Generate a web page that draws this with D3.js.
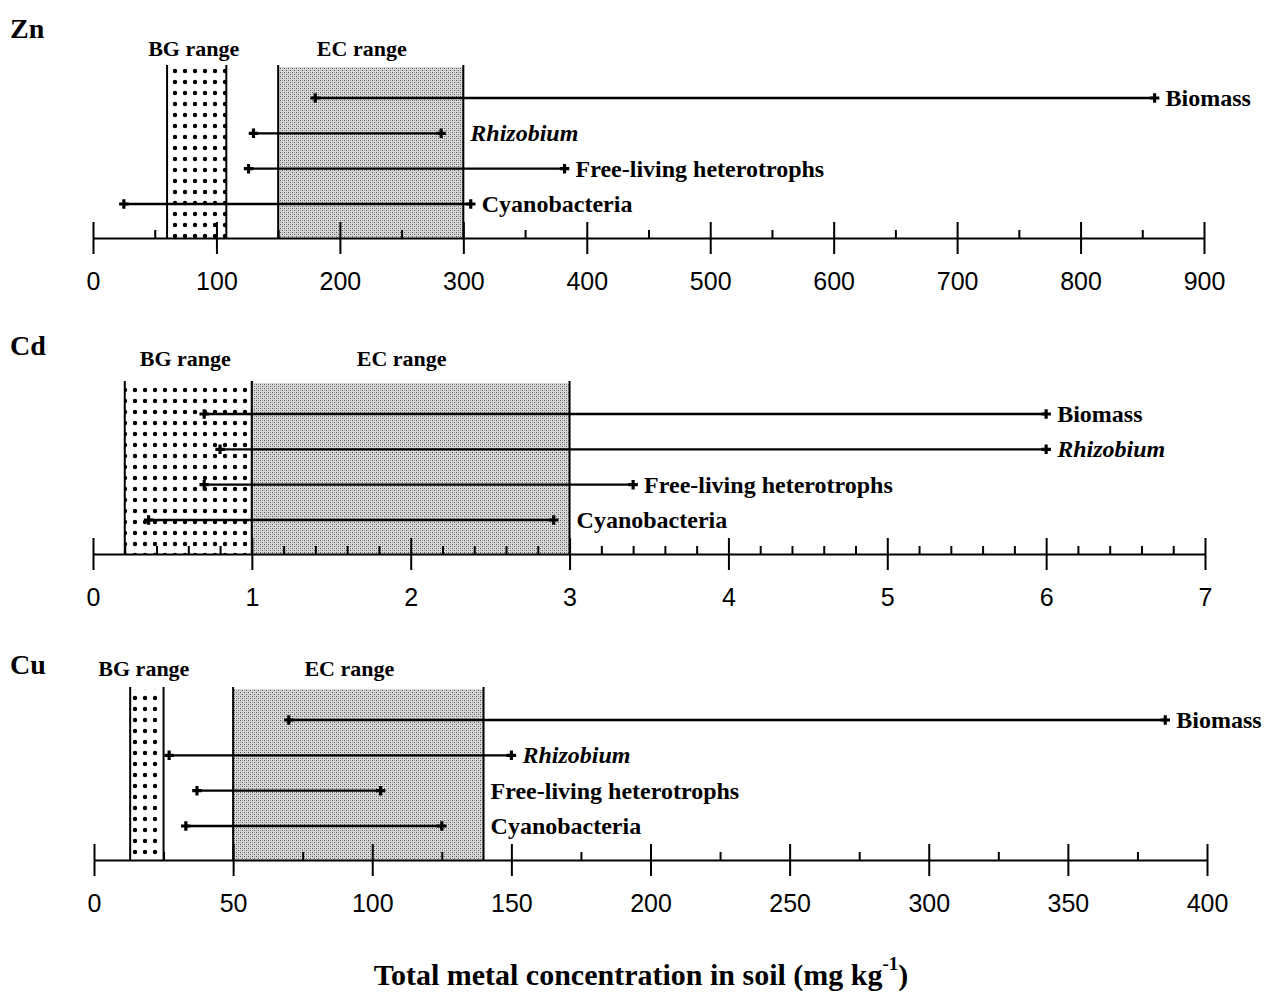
<!DOCTYPE html>
<html>
<head>
<meta charset="utf-8">
<script src="https://cdn.jsdelivr.net/npm/d3@7"></script>
<style>
  body { margin: 0; background: #fff; }
  svg { display: block; }
</style>
</head>
<body>
<svg id="chart" width="1276" height="992"></svg>
<script>
const metals = ['Zn', 'Cd', 'Cu'];
const groups = ['Biomass', 'Rhizobium', 'Free-living heterotrophs', 'Cyanobacteria'];

// low / high effect concentrations per group (mg/kg)
const lowZn = [180, 130, 126, 25];
const highZn = [860, 282, 382, 306];
const lowCd = [0.7, 0.8, 0.7, 0.35];
const highCd = [6.0, 6.0, 3.4, 2.9];
const lowCu = [70, 27, 37, 33];
const highCu = [385, 150, 103, 125];

const bgRange = [[60, 108], [0.2, 1], [13, 25]];
const ecRange = [[150, 300], [1, 3], [50, 140]];
const axisMax = [900, 7, 400];
const majorStep = [100, 1, 50];
const minorStep = [50, 0.2, 25];

const lows = [lowZn, lowCd, lowCu];
const highs = [highZn, highCd, highCu];

// layout per panel
const layout = [
  { base: 238, x0: 93, x1: 1204, nameY: 28, rangeY: 48 },
  { base: 554, x0: 93, x1: 1205, nameY: 345, rangeY: 358 },
  { base: 860, x0: 94, x1: 1207, nameY: 664, rangeY: 668 }
];

const serif = '"Liberation Serif", "Times New Roman", serif';
const sans = '"Liberation Sans", Arial, sans-serif';

const svg = d3.select('#chart');
const defs = svg.append('defs');

const dots = defs.append('pattern')
  .attr('id', 'dots').attr('patternUnits', 'userSpaceOnUse')
  .attr('width', 10).attr('height', 11);
dots.append('rect').attr('width', 10).attr('height', 11).attr('fill', '#fff');
dots.append('circle').attr('cx', 5).attr('cy', 5).attr('r', 2.2).attr('fill', '#000');

const stipple = defs.append('pattern')
  .attr('id', 'stipple').attr('patternUnits', 'userSpaceOnUse')
  .attr('width', 4).attr('height', 4);
stipple.append('rect').attr('width', 4).attr('height', 4).attr('fill', '#d8d8d8');
stipple.append('rect').attr('x', 0).attr('y', 0).attr('width', 1).attr('height', 1).attr('fill', '#555');
stipple.append('rect').attr('x', 2).attr('y', 2).attr('width', 1).attr('height', 1).attr('fill', '#555');
stipple.append('rect').attr('x', 2).attr('y', 0).attr('width', 1).attr('height', 1).attr('fill', '#a0a0a0');
stipple.append('rect').attr('x', 0).attr('y', 2).attr('width', 1).attr('height', 1).attr('fill', '#a8a8a8');

metals.forEach(function (metal, i) {
  const L = layout[i];
  const g = svg.append('g');
  const x = d3.scaleLinear().domain([0, axisMax[i]]).range([L.x0, L.x1]);
  const y = d3.scalePoint().domain(groups).range([L.base - 140, L.base - 34]);
  const boxTop = L.base - 171;

  // metal name
  g.append('text')
    .attr('x', 10).attr('y', L.nameY)
    .attr('dominant-baseline', 'central')
    .style('font-family', serif).style('font-weight', 'bold').style('font-size', '28px')
    .text(metal);

  // range boxes
  const boxes = [
    { r: bgRange[i], fill: 'url(#dots)', label: 'BG range', shift: -3 },
    { r: ecRange[i], fill: 'url(#stipple)', label: 'EC range', shift: -9 }
  ];
  boxes.forEach(function (b) {
    g.append('rect')
      .attr('x', x(b.r[0])).attr('y', boxTop)
      .attr('width', x(b.r[1]) - x(b.r[0]))
      .attr('height', L.base - boxTop)
      .attr('fill', b.fill);
    b.r.forEach(function (v) {
      g.append('line')
        .attr('x1', x(v)).attr('x2', x(v))
        .attr('y1', boxTop - 2).attr('y2', L.base)
        .attr('stroke', '#000').attr('stroke-width', 2);
    });
    g.append('text')
      .attr('x', (x(b.r[0]) + x(b.r[1])) / 2 + b.shift)
      .attr('y', L.rangeY)
      .attr('text-anchor', 'middle')
      .attr('dominant-baseline', 'central')
      .style('font-family', serif).style('font-weight', 'bold').style('font-size', '22px')
      .text(b.label);
  });

  // axis: major ticks go up and down, minor ticks up
  const majors = d3.range(0, axisMax[i] + majorStep[i] / 2, majorStep[i]);
  const minors = d3.range(0, axisMax[i], minorStep[i])
    .filter(function (v) { return Math.abs(v / majorStep[i] - Math.round(v / majorStep[i])) > 1e-6; });

  const ax = g.append('g')
    .attr('transform', 'translate(0,' + L.base + ')')
    .call(d3.axisBottom(x).tickValues(majors).tickSizeInner(16).tickSizeOuter(0).tickPadding(18)
      .tickFormat(d3.format('~g')));
  ax.select('.domain').attr('stroke-width', 2);
  ax.selectAll('.tick line').attr('y1', -16).attr('stroke-width', 2);
  ax.selectAll('.tick text')
    .style('font-family', sans).style('font-size', '25px').attr('fill', '#000');

  const mn = g.append('g')
    .attr('transform', 'translate(0,' + L.base + ')')
    .call(d3.axisTop(x).tickValues(minors).tickSizeInner(8).tickSizeOuter(0).tickFormat(''));
  mn.select('.domain').remove();
  mn.selectAll('.tick line').attr('stroke-width', 2);

  // effect ranges
  const rows = groups.map(function (name, k) {
    return { name: name, lo: lows[i][k], hi: highs[i][k] };
  });
  const row = g.selectAll('.row').data(rows).enter().append('g').attr('class', 'row');
  row.append('line')
    .attr('x1', function (d) { return x(d.lo); })
    .attr('x2', function (d) { return x(d.hi); })
    .attr('y1', function (d) { return y(d.name); })
    .attr('y2', function (d) { return y(d.name); })
    .attr('stroke', '#000').attr('stroke-width', 2.4);
  const marker = d3.symbol().type(d3.symbolCross).size(50);
  ['lo', 'hi'].forEach(function (end) {
    row.append('path')
      .attr('d', marker)
      .attr('transform', function (d) { return 'translate(' + x(d[end]) + ',' + y(d.name) + ')'; })
      .attr('fill', '#000');
  });
  row.append('text')
    .attr('x', function (d) { return Math.max(x(d.hi) + 11, x(ecRange[i][1]) + 7); })
    .attr('y', function (d) { return y(d.name); })
    .attr('dominant-baseline', 'central')
    .style('font-family', serif).style('font-weight', 'bold').style('font-size', '24px')
    .style('font-style', function (d) { return d.name === 'Rhizobium' ? 'italic' : 'normal'; })
    .text(function (d) { return d.name; });
});

// x axis title
const title = svg.append('text')
  .attr('x', 641).attr('y', 974)
  .attr('text-anchor', 'middle')
  .attr('dominant-baseline', 'central')
  .style('font-family', serif).style('font-weight', 'bold').style('font-size', '30px');
title.append('tspan').text('Total metal concentration in soil (mg kg');
title.append('tspan').attr('dy', -11).style('font-size', '19px').text('-1');
title.append('tspan').attr('dy', 11).text(')');
</script>
</body>
</html>
